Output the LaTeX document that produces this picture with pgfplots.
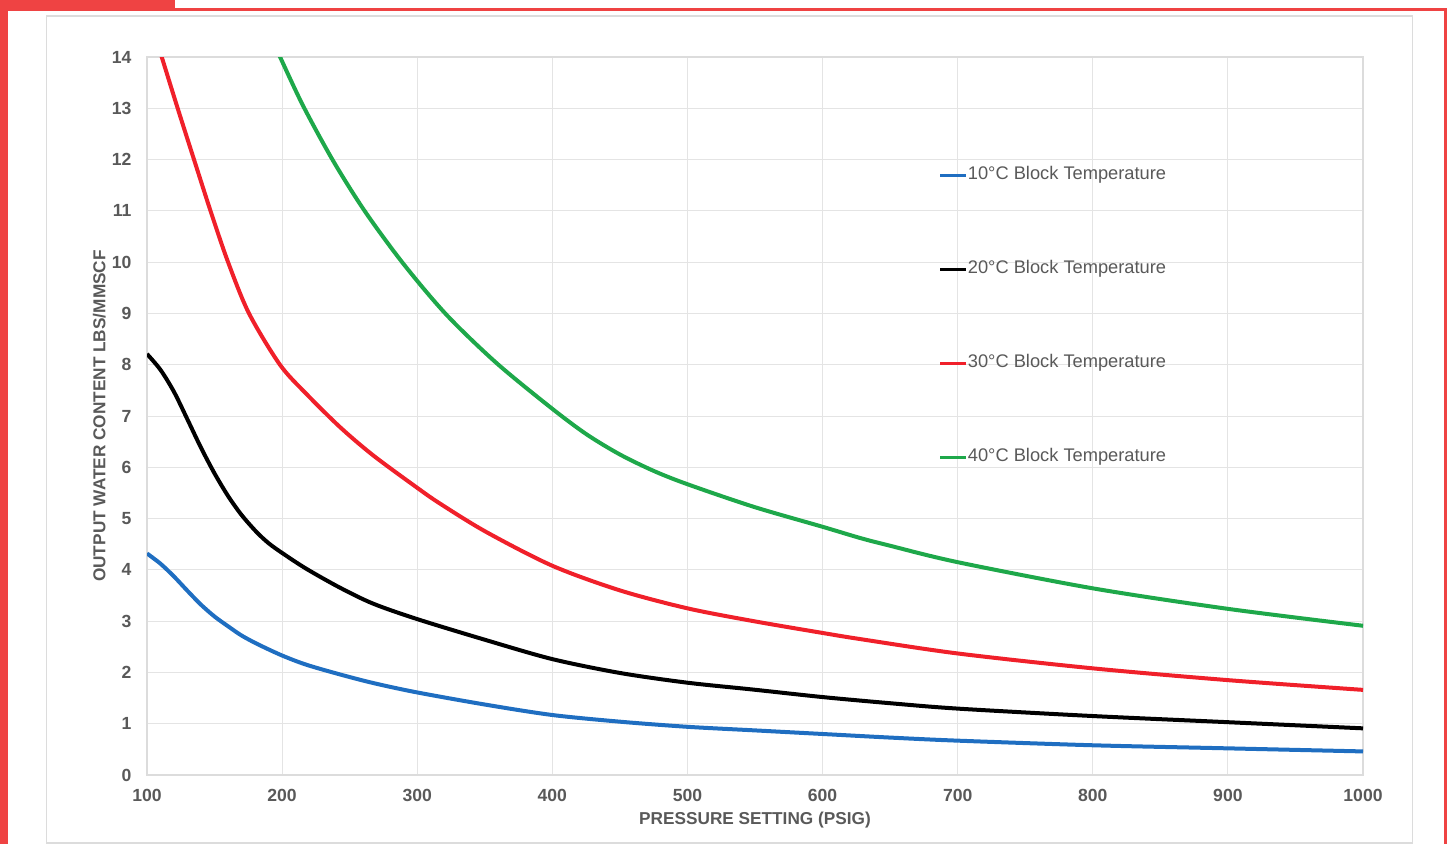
\documentclass[border=0pt]{standalone}
\usepackage{fontspec}
\setmainfont{Liberation Sans}
\usepackage{pgfplots}
\pgfplotsset{compat=1.18}

\definecolor{framered}{HTML}{EF4343}
\definecolor{panelgray}{HTML}{DCDCDC}
\definecolor{gridgray}{HTML}{E4E4E4}
\definecolor{txtgray}{HTML}{595959}
\definecolor{cblue}{HTML}{1F6EC1}
\definecolor{cred}{HTML}{F0202A}
\definecolor{cgreen}{HTML}{1EA84A}

\begin{document}
\begin{tikzpicture}[x=0.2mm,y=-0.2mm]
% page frame (1 unit = 1 px of the 1452x844 reference)
\path[use as bounding box] (0,0) rectangle (1452,844);
\fill[framered] (0,0) rectangle (8.3,844);
\fill[framered] (0,0) rectangle (175,7.7);
\fill[framered] (0,7.7) rectangle (1446.7,10.7);
\fill[framered] (1444,7.7) rectangle (1446.7,844);
\draw[panelgray, line width=0.3mm] (46.7,16) rectangle (1412.3,843);

\begin{axis}[
    at={(29.4mm,-155mm)}, anchor=south west,
    scale only axis, width=243.2mm, height=143.6mm,
    xmin=100, xmax=1000, ymin=0, ymax=14,
    xtick={100,200,...,1000}, ytick={0,1,...,14},
    major tick length=0pt,
    grid=major,
    major grid style={gridgray, line width=0.2mm},
    axis line style={panelgray, line width=0.3mm},
    /pgf/number format/assume math mode=true,
    /pgf/number format/1000 sep={},
    xticklabel style={font=\bfseries\fontsize{10}{12}\selectfont, text=txtgray,
        anchor=north, inner sep=0pt, yshift=-2.8mm},
    yticklabel style={font=\bfseries\fontsize{10}{12}\selectfont, text=txtgray,
        anchor=east, inner sep=0pt, xshift=-3.06mm},
    xlabel={PRESSURE SETTING (PSIG)},
    ylabel={OUTPUT WATER CONTENT LBS/MMSCF},
    every axis x label/.style={at={(axis description cs:0.5,0)}, anchor=north,
        inner sep=0pt, yshift=-7.4mm, font=\bfseries\fontsize{9.8}{12}\selectfont, text=txtgray},
    every axis y label/.style={at={(axis description cs:-0.0337,0.5)}, rotate=90, anchor=south,
        inner sep=0pt, font=\bfseries\fontsize{9.8}{12}\selectfont, text=txtgray},
    legend image code/.code={\draw[#1, line width=0.7mm] (0mm,0mm) -- (5.2mm,0mm);},
    legend cell align=left,
    legend style={at={(0.6505,0.8475)}, anchor=north west, draw=none, fill=none,
        inner sep=0pt, row sep=15.4mm, column sep=0pt,
        font=\fontsize{10.4}{12}\selectfont, text=txtgray,
        nodes={inner sep=0pt, text height=2.6mm, text depth=0.8mm}},
]

\addplot[cblue, line width=0.8mm, smooth] coordinates {
    (100,4.32)(110,4.12)(120,3.87)(130,3.59)(140,3.32)(150,3.09)(160,2.90)
    (170,2.72)(182,2.55)(200,2.33)(218,2.15)(243,1.96)(268,1.79)(300,1.61)
    (351,1.37)(400,1.17)(450,1.04)(500,0.94)(550,0.87)(600,0.80)(650,0.73)
    (700,0.67)(800,0.58)(900,0.52)(1000,0.46)};
\addlegendentry{10°C Block Temperature}

\addplot[black, line width=0.8mm, smooth] coordinates {
    (100,8.21)(110,7.90)(120,7.47)(130,6.93)(140,6.38)(150,5.88)(160,5.44)
    (170,5.07)(181,4.74)(190,4.52)(200,4.33)(218,4.02)(243,3.65)(267.5,3.34)
    (300,3.04)(351,2.63)(400,2.26)(450,1.99)(500,1.80)(549,1.665)(600,1.52)
    (650,1.40)(700,1.295)(800,1.15)(900,1.03)(1000,0.91)};
\addlegendentry{20°C Block Temperature}

\addplot[cred, line width=0.8mm, smooth] coordinates {
    (105,14.49)(110.9,14.0)(122.7,13.0)(134.8,12.0)(147.0,11.0)(160.0,10.0)
    (175.5,9.0)(198.4,8.0)(218,7.43)(243,6.78)(267.5,6.23)(300,5.60)
    (317,5.29)(351,4.74)(400,4.08)(450,3.60)(500,3.25)(549,3.00)(600,2.77)
    (628,2.65)(700,2.37)(800,2.08)(900,1.85)(1000,1.66)};
\addlegendentry{30°C Block Temperature}

\addplot[cgreen, line width=0.8mm, smooth] coordinates {
    (190,14.49)(198.5,14.0)(215.7,13.04)(237.9,11.97)(261.3,10.99)(289.7,9.97)
    (321.8,8.97)(358.8,8.03)(400,7.14)(425.5,6.64)(450,6.25)(475,5.93)(500,5.67)
    (549,5.23)(600,4.84)(628,4.62)(650,4.47)(700,4.15)(800,3.64)(900,3.24)
    (1000,2.91)};
\addlegendentry{40°C Block Temperature}

\end{axis}
\end{tikzpicture}
\end{document}
